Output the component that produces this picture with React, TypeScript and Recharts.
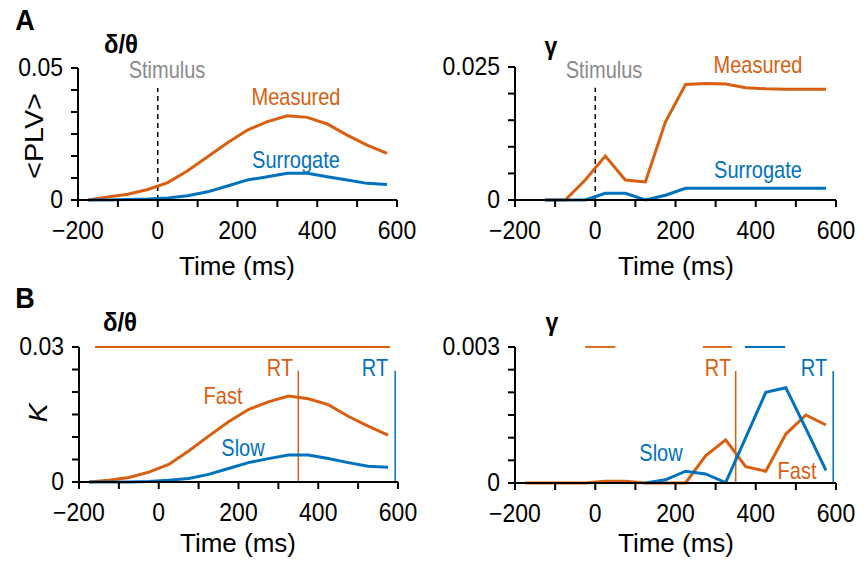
import { Line, LineChart, ReferenceLine, XAxis, YAxis } from 'recharts';

const ORANGE = '#D85F10';
const BLUE = '#0072BD';
const FONT = "'Liberation Sans', Arial, Helvetica, sans-serif";

// time bins (ms), centre of each 50 ms window
const times = [-175, -125, -75, -25, 25, 75, 125, 175, 225, 275, 325, 375, 425, 475, 525, 575];
const xTicks = [-200, -100, 0, 100, 200, 300, 400, 500, 600];

// panel A: phase-locking value
const plvDeltaMeasured = [0, 0.0011, 0.0022, 0.004, 0.0066, 0.0111, 0.0164, 0.0217, 0.0265, 0.0297, 0.0319, 0.0313, 0.0288, 0.0246, 0.0208, 0.0177];
const plvDeltaSurrogate = [0, 0, 0.0002, 0.0004, 0.0008, 0.0016, 0.0031, 0.0053, 0.0076, 0.0088, 0.0101, 0.0101, 0.0088, 0.0076, 0.0063, 0.0059];
const plvGammaMeasured = [null, 0, 0, 0.00375, 0.00825, 0.00375, 0.0034, 0.0147, 0.0217, 0.0219, 0.0218, 0.0211, 0.0209, 0.0208, 0.0208, 0.0208];
const plvGammaSurrogate = [null, 0, 0, 0, 0.00125, 0.00125, 0, 0.0009, 0.0022, 0.0022, 0.0022, 0.0022, 0.0022, 0.0022, 0.0022, 0.0022];

// panel B: kappa, fast vs slow trials
const kDeltaFast = [0, 0.0004, 0.001, 0.0022, 0.0039, 0.0069, 0.0102, 0.0134, 0.0161, 0.0178, 0.0191, 0.0185, 0.0172, 0.0146, 0.0124, 0.0104];
const kDeltaSlow = [0, 0, 0, 0.0001, 0.0004, 0.0008, 0.0017, 0.003, 0.0043, 0.0052, 0.006, 0.006, 0.0052, 0.0043, 0.0035, 0.0033];
const kGammaFast = [0, 0, 0, 0, 0.00004, 0.00004, 0, 0, 0, 0.0006, 0.00095, 0.00036, 0.00026, 0.00108, 0.0015, 0.00128];
const kGammaSlow = [null, null, null, null, null, null, 0, 0.00007, 0.00026, 0.0002, 0.00001, 0.001, 0.002, 0.0021, 0.0012, 0.00028];

const yTicksPlvDelta = [0, 0.05 / 6, 0.1 / 6, 0.025, 0.2 / 6, 0.25 / 6, 0.05];
const yTicksPlvGamma = [0, 0.005, 0.01, 0.015, 0.02, 0.025];
const yTicksKDelta = [0, 0.005, 0.01, 0.015, 0.02, 0.025, 0.03];
const yTicksKGamma = [0, 0.0005, 0.001, 0.0015, 0.002, 0.0025, 0.003];

// reaction times and significance bars (ms)
const rtFast = 350;
const rtSlow = 593;
const sigDeltaFast = [[-160, 580]];
const sigGammaFast = [[-25, 50], [268, 341]];
const sigGammaSlow = [[373, 473]];

const build = (a: (number | null)[], b: (number | null)[]) =>
  times.map((t, i) => ({ t, a: a[i], b: b[i] }));

const fmtX = (v: number) => (v < 0 ? '\u2212' + Math.abs(v) : String(v));

function XTick(props: any) {
  const v = props.payload.value;
  if (v % 200 !== 0) return <g />;
  return (
    <g transform={`translate(${props.x},${props.y})`}>
      <text textAnchor="middle" y={27} transform="scale(1,1.1)" fontSize={23} fontFamily={FONT} fill="#000">
        {fmtX(v)}
      </text>
    </g>
  );
}

function makeYTick(max: number, label: string) {
  return (props: any) => {
    const v = props.payload.value;
    let txt = '';
    if (v === 0) txt = '0';
    else if (Math.abs(v - max) < 1e-9) txt = label;
    if (!txt) return <g />;
    return (
      <g transform={`translate(${props.x - 6},${props.y})`}>
        <text textAnchor="end" y={7.5} transform="scale(1,1.1)" fontSize={23} fontFamily={FONT} fill="#000">
          {txt}
        </text>
      </g>
    );
  };
}

interface TxtProps {
  x: number;
  y: number;
  children: any;
  size?: number;
  color?: string;
  bold?: boolean;
  italic?: boolean;
  rotate?: boolean;
  sy?: number;
}

function Txt({ x, y, children, size = 20, color = '#000', bold, italic, rotate, sy = 1.2 }: TxtProps) {
  return (
    <div
      style={{
        position: 'absolute',
        left: x,
        top: y,
        transform: `translate(-50%,-50%) scaleY(${sy})${rotate ? ' rotate(-90deg)' : ''}`,
        fontSize: size,
        lineHeight: 1,
        color,
        fontWeight: bold ? 700 : 400,
        fontStyle: italic ? 'italic' : 'normal',
        fontFamily: FONT,
        whiteSpace: 'nowrap',
      }}
    >
      {children}
    </div>
  );
}

interface PanelProps {
  left: number;
  top: number;
  x0: number;
  x1: number;
  y0: number;
  y1: number;
  yMax: number;
  yTicks: number[];
  yLabel: string;
  data: any[];
  colorA: string;
  colorB: string;
  children?: any;
}

function Panel({ left, top, x0, x1, y0, y1, yMax, yTicks, yLabel, data, colorA, colorB, children }: PanelProps) {
  const W = 432;
  const H = 281;
  const axisStyle = { stroke: '#000', strokeWidth: 2 };
  return (
    <div style={{ position: 'absolute', left, top, width: W, height: H }}>
      <LineChart
        width={W}
        height={H}
        data={data}
        margin={{ top: y0 - top, right: left + W - x1, left: 0, bottom: top + H - y1 - 30 }}
      >
        <XAxis
          type="number"
          dataKey="t"
          domain={[-200, 600]}
          ticks={xTicks}
          interval={0}
          height={30}
          tickSize={7}
          axisLine={axisStyle}
          tickLine={axisStyle}
          tick={<XTick />}
        />
        <YAxis
          type="number"
          domain={[0, yMax]}
          ticks={yTicks}
          interval={0}
          width={x0 - left}
          tickSize={7}
          axisLine={axisStyle}
          tickLine={axisStyle}
          tick={makeYTick(yMax, yLabel)}
        />
        {children}
        <Line type="linear" dataKey="a" stroke={colorA} strokeWidth={3} dot={false} isAnimationActive={false} />
        <Line type="linear" dataKey="b" stroke={colorB} strokeWidth={3} dot={false} isAnimationActive={false} />
      </LineChart>
    </div>
  );
}

export default function App() {
  const refLine = (x: number, yTop: number, color: string, dash?: string, w = 1.5) => (
    <ReferenceLine
      key={`${x}-${color}`}
      segment={[{ x, y: 0 }, { x, y: yTop }]}
      stroke={color}
      strokeWidth={w}
      strokeDasharray={dash}
      ifOverflow="visible"
    />
  );
  const sigBars = (bars: number[][], y: number, color: string) =>
    bars.map(([a, b]) => (
      <ReferenceLine
        key={`sig-${a}-${color}`}
        segment={[{ x: a, y }, { x: b, y }]}
        stroke={color}
        strokeWidth={1.8}
        ifOverflow="visible"
      />
    ));

  return (
    <div style={{ position: 'absolute', left: 0, top: 0, width: 864, height: 562, background: '#fff', fontFamily: FONT }}>
      <Panel left={0} top={0} x0={78} x1={397} y0={68} y1={200} yMax={0.05} yTicks={yTicksPlvDelta} yLabel="0.05"
        data={build(plvDeltaMeasured, plvDeltaSurrogate)} colorA={ORANGE} colorB={BLUE}>
        {refLine(0, 0.0424, '#000', '5 4', 1.5)}
      </Panel>
      <Panel left={432} top={0} x0={515} x1={836} y0={67} y1={200} yMax={0.025} yTicks={yTicksPlvGamma} yLabel="0.025"
        data={build(plvGammaMeasured, plvGammaSurrogate)} colorA={ORANGE} colorB={BLUE}>
        {refLine(0, 0.0211, '#000', '5 4', 1.5)}
      </Panel>
      <Panel left={0} top={281} x0={79} x1={398} y0={347} y1={482} yMax={0.03} yTicks={yTicksKDelta} yLabel="0.03"
        data={build(kDeltaFast, kDeltaSlow)} colorA={ORANGE} colorB={BLUE}>
        {sigBars(sigDeltaFast, 0.03, ORANGE)}
        {refLine(rtFast, 0.0247, ORANGE)}
        {refLine(rtSlow, 0.0247, BLUE)}
      </Panel>
      <Panel left={432} top={281} x0={515} x1={836} y0={347} y1={483} yMax={0.003} yTicks={yTicksKGamma} yLabel="0.003"
        data={build(kGammaFast, kGammaSlow)} colorA={ORANGE} colorB={BLUE}>
        {sigBars(sigGammaFast, 0.003, ORANGE)}
        {sigBars(sigGammaSlow, 0.003, BLUE)}
        {refLine(rtFast, 0.00247, ORANGE)}
        {refLine(rtSlow, 0.00247, BLUE)}
      </Panel>

      <Txt x={25} y={21} size={27} bold sy={1.1}>A</Txt>
      <Txt x={25} y={299} size={27} bold sy={1.1}>B</Txt>
      <Txt x={121} y={44} size={24} bold sy={1.1}>δ/θ</Txt>
      <Txt x={551} y={47} size={23} bold sy={1.1}>γ</Txt>
      <Txt x={120} y={322} size={24} bold sy={1.1}>δ/θ</Txt>
      <Txt x={552} y={323} size={23} bold sy={1.1}>γ</Txt>

      <Txt x={34} y={136} size={25} rotate sy={1.15}>&lt;PLV&gt;</Txt>
      <Txt x={38} y={413} size={25} italic rotate sy={1.15}>K</Txt>

      <Txt x={237} y={266} size={26} sy={1}>Time (ms)</Txt>
      <Txt x={676} y={266} size={26} sy={1}>Time (ms)</Txt>
      <Txt x={238} y={543} size={26} sy={1}>Time (ms)</Txt>
      <Txt x={676} y={543} size={26} sy={1}>Time (ms)</Txt>

      <Txt x={167} y={70} color="#8a8a8a">Stimulus</Txt>
      <Txt x={296} y={97} color={ORANGE}>Measured</Txt>
      <Txt x={296} y={160} color={BLUE}>Surrogate</Txt>
      <Txt x={604} y={70} color="#8a8a8a">Stimulus</Txt>
      <Txt x={758} y={65} color={ORANGE}>Measured</Txt>
      <Txt x={758} y={170} color={BLUE}>Surrogate</Txt>

      <Txt x={280} y={368} color={ORANGE}>RT</Txt>
      <Txt x={375} y={368} color={BLUE}>RT</Txt>
      <Txt x={223} y={396} color={ORANGE}>Fast</Txt>
      <Txt x={243} y={448} color={BLUE}>Slow</Txt>
      <Txt x={718} y={368} color={ORANGE}>RT</Txt>
      <Txt x={814} y={368} color={BLUE}>RT</Txt>
      <Txt x={661} y={453} color={BLUE}>Slow</Txt>
      <Txt x={797} y={471} color={ORANGE}>Fast</Txt>
    </div>
  );
}
